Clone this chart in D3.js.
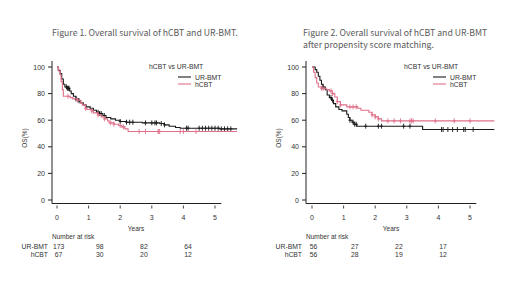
<!DOCTYPE html>
<html>
<head>
<meta charset="utf-8">
<script src="https://cdn.jsdelivr.net/npm/d3@7/dist/d3.min.js"></script>
<style>
  body { margin: 0; background: #fff; }
  svg text { font-family: "Liberation Sans", Arial, sans-serif; fill: #333; }
  .title { font-family: "Noto Sans CJK JP", "Noto Sans", sans-serif !important; fill: #5a5a5a !important; }
</style>
</head>
<body>
<div id="chart"></div>
<script>
// Figure 1 (all patients)
var f1BmtTime = [0, 0.04, 0.1, 0.15, 0.2, 0.25, 0.32, 0.4, 0.45, 0.52, 0.6, 0.68, 0.75, 0.83, 0.92, 1.05, 1.15, 1.25, 1.35, 1.45, 1.55, 1.7, 1.85, 2.0, 2.2, 2.7, 3.25, 3.4, 3.55, 3.75, 3.9, 5.15, 5.7];
var f1BmtSurv = [100, 97.5, 95, 91, 87, 85, 84, 82, 80, 78, 76, 74.5, 73, 71.5, 70, 69, 67.5, 66, 65, 63.5, 62, 61, 60, 59, 58.5, 58, 57.5, 56.5, 55.5, 54.5, 54, 53.5, 53.5];
var f1BmtCens = [0.3, 0.33, 0.36, 0.38, 0.6, 0.7, 1.3, 1.35, 1.4, 1.5, 2.0, 2.2, 2.3, 2.4, 2.8, 3.0, 3.1, 3.15, 3.3, 3.4, 4.1, 4.15, 4.5, 4.6, 4.7, 4.8, 4.9, 5.0, 5.1, 5.2, 5.3, 5.4, 5.5];
var f1CbtTime = [0, 0.05, 0.1, 0.13, 0.17, 0.2, 0.42, 0.5, 0.65, 0.75, 0.8, 0.9, 0.95, 1.1, 1.15, 1.3, 1.4, 1.5, 1.6, 1.65, 1.8, 1.95, 2.05, 2.15, 2.25, 5.7];
var f1CbtSurv = [100, 97, 94, 89, 83, 78, 77, 76, 75, 73, 71.5, 69, 68, 67, 65.5, 64, 62.5, 61, 59.5, 58, 57, 56, 55, 53.5, 51.5, 51.5];
var f1CbtCens = [0.35, 0.65, 0.9, 1.1, 1.3, 1.5, 1.7, 1.8, 2.0, 2.1, 2.6, 2.8, 3.2, 3.22, 3.25, 3.9, 4.0, 4.4];

// Figure 2 (after matching)
var f2BmtTime = [0, 0.1, 0.15, 0.2, 0.25, 0.3, 0.35, 0.42, 0.48, 0.55, 0.62, 0.68, 0.75, 0.85, 0.95, 1.1, 1.15, 1.2, 1.27, 1.33, 1.42, 3.5, 5.77];
var f2BmtSurv = [100, 98, 96, 93, 90, 87, 85, 83, 79, 77, 75, 72.5, 70, 68, 67, 64.5, 62, 60, 58.5, 57, 55.5, 53, 53];
var f2BmtCens = [0.35, 0.6, 0.65, 1.2, 1.3, 1.35, 1.4, 1.7, 2.1, 2.2, 2.9, 3.1, 4.1, 4.15, 4.3, 4.45, 4.6, 4.8, 4.85, 5.1];
var f2CbtTime = [0, 0.05, 0.1, 0.15, 0.2, 0.3, 0.45, 0.55, 0.65, 0.72, 0.8, 0.9, 1.1, 1.45, 1.55, 1.8, 1.9, 2.0, 2.1, 2.2, 5.77];
var f2CbtSurv = [100, 96, 92, 88, 85, 84, 83, 82, 80, 77.5, 74, 71.5, 70, 69, 67.5, 66, 64, 62.5, 61, 59.5, 59.5];
var f2CbtCens = [0.3, 0.35, 0.6, 0.65, 0.8, 0.9, 1.2, 1.3, 1.4, 1.9, 2.0, 2.1, 2.4, 2.6, 2.8, 3.1, 3.15, 3.2, 3.9, 4.5, 5.0];

var yearTicks = [0, 1, 2, 3, 4, 5];
var osTicks = [0, 20, 40, 60, 80, 100];
var groups = ["UR-BMT", "hCBT"];
var f1Risk = [[173, 98, 82, 64], [67, 30, 20, 12]];
var f2Risk = [[56, 27, 22, 17], [56, 28, 19, 12]];
var riskYears = [0.05, 1.35, 2.75, 4.15];

var colors = { "UR-BMT": "#1a1a1a", "hCBT": "#e0708a" };

var svg = d3.select("#chart").append("svg")
    .attr("width", 520)
    .attr("height", 292);

function survAt(times, surv, t) {
    var i = d3.bisectRight(times, t) - 1;
    return surv[Math.max(0, i)];
}

function drawPanel(p) {
    var x = d3.scaleLinear().domain([0, 5]).range([p.x0, p.x0 + 158]);
    var y = d3.scaleLinear().domain([0, 100]).range([200, 67]);
    var g = svg.append("g");

    // titles
    p.title.forEach(function (t, i) {
        g.append("text")
            .attr("class", "title")
            .attr("x", p.titleX)
            .attr("y", 35.5 + i * 12)
            .style("font-size", "8.7px")
            .text(t);
    });

    // L box
    g.append("path")
        .attr("d", "M" + p.axisX + ",61V203.5H" + x(5.2))
        .attr("fill", "none")
        .attr("stroke", "#222")
        .attr("stroke-width", 1);

    // y axis ticks
    osTicks.forEach(function (v) {
        g.append("line")
            .attr("x1", p.axisX - 4).attr("x2", p.axisX)
            .attr("y1", y(v)).attr("y2", y(v))
            .attr("stroke", "#222");
        g.append("text")
            .attr("x", p.axisX - 7)
            .attr("y", y(v) + 2.5)
            .attr("text-anchor", "end")
            .style("font-size", "7px")
            .text(v);
    });
    g.append("text")
        .attr("transform", "translate(" + (p.axisX - 25) + ",138) rotate(-90)")
        .attr("text-anchor", "middle")
        .style("font-size", "6.5px")
        .text("OS(%)");

    // x axis ticks
    yearTicks.forEach(function (v) {
        g.append("line")
            .attr("x1", x(v)).attr("x2", x(v))
            .attr("y1", 205.5).attr("y2", 208.5)
            .attr("stroke", "#444");
        g.append("text")
            .attr("x", x(v))
            .attr("y", 220)
            .attr("text-anchor", "middle")
            .style("font-size", "7px")
            .text(v);
    });
    g.append("text")
        .attr("x", (x(0) + x(5)) / 2)
        .attr("y", 231)
        .attr("text-anchor", "middle")
        .style("font-size", "6.5px")
        .text("Years");

    // curves
    var line = d3.line()
        .x(function (d) { return x(d[0]); })
        .y(function (d) { return y(d[1]); })
        .curve(d3.curveStepAfter);

    p.series.forEach(function (s) {
        var pts = s.time.map(function (t, i) { return [t, s.surv[i]]; });
        g.append("path")
            .datum(pts)
            .attr("d", line)
            .attr("fill", "none")
            .attr("stroke", colors[s.name])
            .attr("stroke-width", 1.1);
        s.cens.forEach(function (t) {
            var cx = x(t), cy = y(survAt(s.time, s.surv, t));
            g.append("path")
                .attr("d", "M" + cx + "," + (cy - 2.5) + "V" + (cy + 2.5) + "M" + (cx - 1.5) + "," + cy + "H" + (cx + 1.5))
                .attr("stroke", colors[s.name])
                .attr("stroke-width", 0.9);
        });
    });

    // legend
    g.append("text")
        .attr("x", p.legX)
        .attr("y", 69)
        .style("font-size", "6.8px")
        .text("hCBT vs UR-BMT");
    groups.forEach(function (name, i) {
        var ly = 77 + i * 7;
        g.append("line")
            .attr("x1", p.legX + 29).attr("x2", p.legX + 42)
            .attr("y1", ly).attr("y2", ly)
            .attr("stroke", colors[name])
            .attr("stroke-width", 1.1);
        g.append("text")
            .attr("x", p.legX + 46)
            .attr("y", ly + 2.5)
            .style("font-size", "6.8px")
            .text(name);
    });

    // number at risk
    g.append("text")
        .attr("x", p.axisX)
        .attr("y", 239)
        .style("font-size", "6.5px")
        .text("Number at risk");
    groups.forEach(function (name, i) {
        var ry = 249 + i * 8;
        g.append("text")
            .attr("x", p.axisX - 4)
            .attr("y", ry)
            .attr("text-anchor", "end")
            .style("font-size", "6.8px")
            .text(name);
        p.risk[i].forEach(function (n, j) {
            g.append("text")
                .attr("x", x(riskYears[j]))
                .attr("y", ry)
                .attr("text-anchor", "middle")
                .style("font-size", "6.8px")
                .text(n);
        });
    });
}

drawPanel({
    x0: 57, axisX: 52, titleX: 52, legX: 149,
    title: ["Figure 1. Overall survival of hCBT and UR-BMT."],
    series: [
        { name: "UR-BMT", time: f1BmtTime, surv: f1BmtSurv, cens: f1BmtCens },
        { name: "hCBT", time: f1CbtTime, surv: f1CbtSurv, cens: f1CbtCens }
    ],
    risk: f1Risk
});

drawPanel({
    x0: 312, axisX: 306, titleX: 303, legX: 404,
    title: ["Figure 2. Overall survival of hCBT and UR-BMT", "after propensity score matching."],
    series: [
        { name: "UR-BMT", time: f2BmtTime, surv: f2BmtSurv, cens: f2BmtCens },
        { name: "hCBT", time: f2CbtTime, surv: f2CbtSurv, cens: f2CbtCens }
    ],
    risk: f2Risk
});
</script>
</body>
</html>
